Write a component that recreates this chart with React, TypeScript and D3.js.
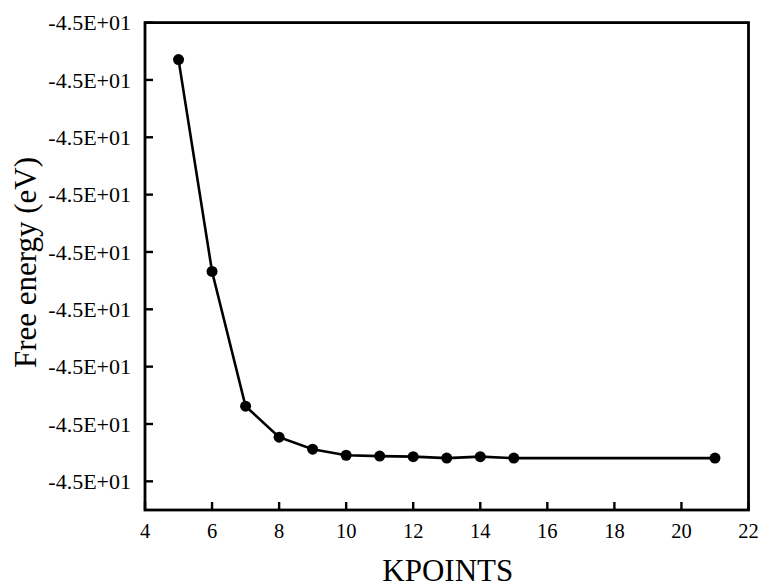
import React from "react";
import * as d3 from "d3";

const kpoints = [5, 6, 7, 8, 9, 10, 11, 12, 13, 14, 15, 21];
const freeEnergy = [
  -44.99129, -44.99868, -45.00338, -45.00446, -45.00488, -45.00509,
  -45.00512, -45.00514, -45.00519, -45.00514, -45.00519, -45.00519,
];
const xTicks = [4, 6, 8, 10, 12, 14, 16, 18, 20, 22];
const yTicks = [-44.99, -44.992, -44.994, -44.996, -44.998, -45.0, -45.002, -45.004, -45.006];
const xTitle = "KPOINTS";
const yTitle = "Free energy (eV)";

const W = 761;
const H = 588;
const left = 145;
const right = 748.5;
const top = 22.6;
const bottom = 510;

function fmtE(v: number): string {
  const s = v.toExponential(1); // e.g. -4.5e+1
  const m = s.match(/^(-?[\d.]+)e([+-])(\d+)$/);
  if (!m) return s;
  const exp = m[3].padStart(2, "0");
  return `${m[1]}E${m[2]}${exp}`;
}

export default function App() {
  const x = d3.scaleLinear().domain([4, 22]).range([left, right]);
  const y = d3.scaleLinear().domain([-45.007, -44.99]).range([bottom, top]);
  const pts: [number, number][] = kpoints.map((k, i) => [k, freeEnergy[i]]);
  const line = d3
    .line<[number, number]>()
    .x((d) => x(d[0]))
    .y((d) => y(d[1]));

  const font = '"Liberation Serif", "Times New Roman", "DejaVu Serif", serif';
  return (
    <svg
      width={W}
      height={H}
      style={{ position: "absolute", left: 0, top: 0, background: "#fff", fontFamily: font }}
    >
      <rect x={0} y={0} width={W} height={H} fill="#fff" />
      {/* frame */}
      <rect
        x={left}
        y={top}
        width={right - left}
        height={bottom - top}
        fill="none"
        stroke="#000"
        strokeWidth={2.8}
      />
      {/* x ticks */}
      {xTicks.map((t) => (
        <g key={"xt" + t}>
          <line x1={x(t)} x2={x(t)} y1={bottom} y2={bottom - 8} stroke="#000" strokeWidth={2.4} />
          <text x={x(t)} y={538} textAnchor="middle" fontSize={20.5} fill="#000" style={{ fontFamily: font }}>
            {t}
          </text>
        </g>
      ))}
      {/* y ticks */}
      {yTicks.map((t, i) => (
        <g key={"yt" + i}>
          <line x1={left} x2={left + 8} y1={y(t)} y2={y(t)} stroke="#000" strokeWidth={2.4} />
          <text
            x={131}
            y={y(t)}
            dy="0.35em"
            textAnchor="end"
            fontSize={22}
            fill="#000"
            style={{ fontFamily: font }}
          >
            {fmtE(t)}
          </text>
        </g>
      ))}
      {/* data line */}
      <path d={line(pts) || ""} fill="none" stroke="#000" strokeWidth={2.6} />
      {pts.map((d, i) => (
        <circle key={"p" + i} cx={x(d[0])} cy={y(d[1])} r={5.5} fill="#000" />
      ))}
      {/* titles */}
      <text
        x={(left + right) / 2 + 1}
        y={581}
        textAnchor="middle"
        fontSize={31}
        fill="#000"
        style={{ fontFamily: font }}
      >
        {xTitle}
      </text>
      <text
        transform={`translate(36, ${(158 + 367) / 2}) rotate(-90)`}
        textAnchor="middle"
        fontSize={31}
        fill="#000"
        style={{ fontFamily: font }}
      >
        {yTitle}
      </text>
    </svg>
  );
}
